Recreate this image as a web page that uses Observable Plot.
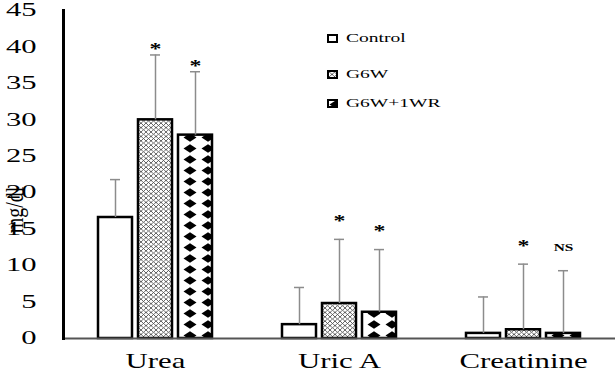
<!DOCTYPE html>
<html>
<head>
<meta charset="utf-8">
<script src="https://cdn.jsdelivr.net/npm/d3@7"></script>
<script src="https://cdn.jsdelivr.net/npm/@observablehq/plot@0.6"></script>
<style>
  body { margin: 0; background: #fff; font-family: "Liberation Serif", serif; }
  #wrap { position: relative; width: 615px; height: 376px; overflow: hidden; }
  .ylabel {
    position: absolute; left: 15px; top: 210px;
    transform: translate(-50%, -50%) rotate(-90deg) scaleY(1.3);
    font-size: 20px; color: #000; white-space: nowrap;
  }
  .legend { position: absolute; left: 327px; top: 0; }
  .legend .row { position: absolute; left: 0; display: flex; align-items: center; white-space: nowrap; }
  .legend svg { display: block; }
  .legend span {
    display: inline-block; margin-left: 8px; font-size: 13px; color: #000;
    transform: scaleX(1.5); transform-origin: left center;
  }
</style>
</head>
<body>
<!-- shared fill patterns for the bars and legend swatches -->
<svg width="0" height="0" style="position:absolute">
  <defs>
    <pattern id="hatch-g6w" patternUnits="userSpaceOnUse" width="5" height="4.4">
      <rect width="5" height="4.4" fill="white"/>
      <path d="M0,0 L5,4.4 M5,0 L0,4.4" stroke="#3a3a3a" stroke-width="0.75"/>
    </pattern>
    <pattern id="diamond-wr" patternUnits="userSpaceOnUse" width="18" height="11">
      <rect width="18" height="11" fill="white"/>
      <path d="M9,1.2 L15.5,5.5 L9,9.8 L2.5,5.5Z" fill="black"/>
    </pattern>
  </defs>
</svg>
<div id="wrap">
  <div id="chart"></div>
  <div class="ylabel">mg/dl</div>
  <div class="legend" id="legend"></div>
</div>
<script>
// Serum markers by treatment group (mean and SD, mg/dl)
const categories = ["Urea", "Uric A", "Creatinine"];
const groups = ["Control", "G6W", "G6W+1WR"];

const ureaMean = [16.6, 30.0, 27.9];
const ureaSD = [5.2, 8.9, 8.7];
const ureaSig = ["", "*", "*"];

const uricMean = [1.9, 4.8, 3.6];
const uricSD = [5.1, 8.8, 8.6];
const uricSig = ["", "*", "*"];

const creatMean = [0.7, 1.2, 0.7];
const creatSD = [5.0, 9.0, 8.6];
const creatSig = ["", "*", "NS"];

const yTicks = [0, 5, 10, 15, 20, 25, 30, 35, 40, 45];
const groupFills = ["white", "url(#hatch-g6w)", "url(#diamond-wr)"];

const series = [
  [ureaMean, ureaSD, ureaSig],
  [uricMean, uricSD, uricSig],
  [creatMean, creatSD, creatSig]
];
const rows = [];
categories.forEach((c, i) => {
  const [m, s, sig] = series[i];
  groups.forEach((g, j) => rows.push({category: c, group: g, mean: m[j], sd: s[j], sig: sig[j]}));
});
const errTop = d => d.mean + d.sd;
const errColor = "#8c8c8c";

const chart = Plot.plot({
  width: 615,
  height: 376,
  marginLeft: 62,
  marginRight: 0,
  marginTop: 10,
  marginBottom: 38,
  style: {fontFamily: "Liberation Serif, serif", background: "white", color: "black"},
  facet: {data: rows, x: "category"},
  fx: {domain: categories, padding: 0, label: null, axis: null},
  x: {domain: groups, paddingInner: 0.15, paddingOuter: 0.875, axis: null},
  y: {domain: [0, 45], axis: null},
  color: {domain: groups, range: groupFills},
  marks: [
    Plot.axisY({ticks: yTicks, tickSize: 0, tickPadding: 27, fontSize: 18, label: null}),
    Plot.axisFx({anchor: "bottom", tickSize: 0, tickPadding: 14, fontSize: 22, label: null}),
    Plot.barY(rows, {x: "group", y: "mean", fill: "group", stroke: "black", strokeWidth: 2.5}),
    Plot.ruleX(rows, {x: "group", y1: "mean", y2: errTop, stroke: errColor, strokeWidth: 1.5}),
    Plot.tickY(rows, {x: "group", y: errTop, stroke: errColor, strokeWidth: 1.5, insetLeft: 12, insetRight: 12}),
    // significance marks: Urea labels sit close to the caps, the others higher
    Plot.text(rows, {x: "group", y: errTop, text: d => d.category === "Urea" && d.sig ? d.sig : null,
      dy: -6, fontSize: 17, fontWeight: "bold"}),
    Plot.text(rows, {x: "group", y: errTop, text: d => d.category !== "Urea" && d.sig === "*" ? d.sig : null,
      dy: -19, fontSize: 17, fontWeight: "bold"}),
    Plot.text(rows, {x: "group", y: errTop, text: d => d.sig === "NS" ? d.sig : null,
      dy: -23, fontSize: 11, fontWeight: "bold"}),
    Plot.ruleY([0], {stroke: "#555", strokeWidth: 2}),
    Plot.frame({anchor: "left", facetAnchor: "left", stroke: "black", strokeWidth: 3})
  ]
});
document.getElementById("chart").appendChild(chart);

// widen the serif labels horizontally about their anchor point
function stretch(selection, k) {
  selection.each(function () {
    const t = this.getAttribute("transform");
    if (t) this.setAttribute("transform", `${t} scale(${k},1)`);
    else {
      const x = +this.getAttribute("x") || 0, y = +this.getAttribute("y") || 0;
      this.removeAttribute("x"); this.removeAttribute("y");
      this.setAttribute("transform", `translate(${x},${y}) scale(${k},1)`);
    }
  });
}
const svg = d3.select(chart);
stretch(svg.selectAll('g[aria-label="y-axis tick label"] text'), 1.7);
stretch(svg.selectAll('g[aria-label="fx-axis tick label"] text'), 1.4);
stretch(svg.selectAll('g[aria-label="text"] text'), 1.4);

// legend rows inside the plot area
const legendTops = [30, 66, 95];
const legend = d3.select("#legend");
groups.forEach((g, i) => {
  const row = legend.append("div").attr("class", "row").style("top", legendTops[i] + "px");
  const sw = row.append("svg").attr("width", 11).attr("height", 9);
  sw.append("rect").attr("x", 1).attr("y", 1).attr("width", 9).attr("height", 7)
    .attr("fill", groupFills[i]).attr("stroke", "black").attr("stroke-width", 2);
  row.append("span").text(g);
});
</script>
</body>
</html>
